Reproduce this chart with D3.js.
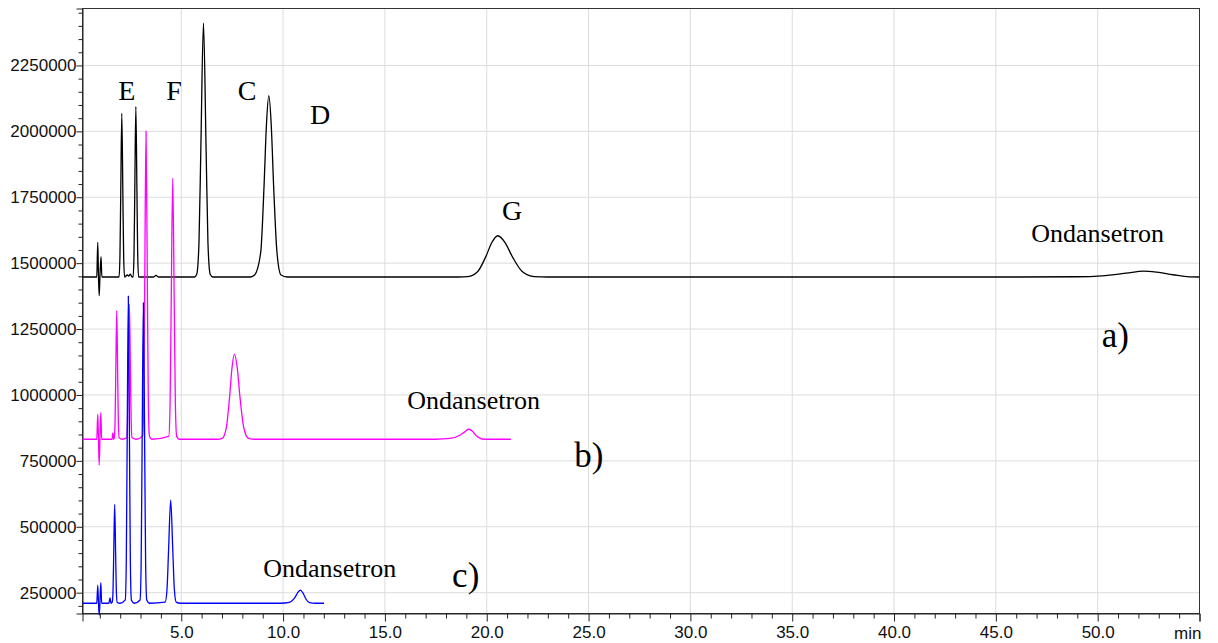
<!DOCTYPE html>
<html>
<head>
<meta charset="utf-8">
<script src="https://cdn.jsdelivr.net/npm/d3@7"></script>
<style>
  body { margin: 0; background: #fff; }
  svg { display: block; }
  .tick text { font-family: 'Liberation Sans', Arial, sans-serif; font-size: 17px; fill: #111; }
  .note { font-family: 'Liberation Serif', 'Times New Roman', serif; fill: #000; }
</style>
</head>
<body>
<div id="chart"></div>
<script>
const width = 1218
const height = 643
const margin = { top: 8.5, right: 18.5, bottom: 29.5, left: 82.5 }

// time range (min) and intensity range
const xDomain = [0.15, 55]
const yDomain = [171000, 2466000]
const xMajorTicks = [5, 10, 15, 20, 25, 30, 35, 40, 45, 50]
const yMajorTicks = [250000, 500000, 750000, 1000000, 1250000, 1500000, 1750000, 2000000, 2250000]

// chromatogram a) black
const traceA = [
  [0.15, 1447500], [0.85, 1447500], [0.90, 1579000], [0.935, 1447500], [0.97, 1377000], [1.005, 1447500], [1.06, 1525000], [1.10, 1447500],
  [1.945, 1447500], [1.99, 1531000], [2.027, 1758000], [2.08, 2068000], [2.133, 1758000], [2.17, 1531000], [2.215, 1447500],
  [2.35, 1455000], [2.42, 1451000], [2.5, 1458000], [2.58, 1447500],
  [2.635, 1447500], [2.68, 1535000], [2.717, 1771000], [2.77, 2094000], [2.823, 1771000], [2.86, 1535000], [2.905, 1447500],
  [3.65, 1447500], [3.76, 1454000], [3.87, 1447500],
  [5.65, 1447500], [5.76, 1458000], [5.87, 1577500], [5.96, 1928750], [6.09, 2410000], [6.22, 1928750], [6.31, 1577500], [6.42, 1458000], [6.55, 1447500],
  [8.4, 1447500], [8.6, 1455000], [8.9, 1540300], [9.064, 1791250], [9.18, 2021500], [9.30, 2135000], [9.42, 2021500], [9.536, 1791250], [9.70, 1540300], [9.90, 1455000], [10.2, 1447500],
  [18.6, 1447500], [19.07, 1449200], [19.56, 1468600], [19.96, 1525750], [20.25, 1578200], [20.54, 1604000], [20.90, 1578200], [21.25, 1525750], [21.74, 1468600], [22.34, 1449200], [23, 1447500],
  [46, 1447500], [49, 1448500], [50.2, 1452000], [51.4, 1462000], [52.25, 1470000], [52.9, 1466000], [53.7, 1456000], [54.5, 1448000], [55, 1447500]
]

// chromatogram b) magenta
const traceB = [
  [0.15, 832000], [0.85, 832000], [0.90, 927000], [0.935, 832000], [0.97, 734000], [1.005, 832000], [1.05, 933000], [1.09, 832000],
  [1.60, 832000], [1.64, 856000], [1.68, 832000],
  [1.71, 837400], [1.75, 897900], [1.783, 1076000], [1.83, 1320000], [1.877, 1076000], [1.91, 897900], [1.95, 837400], [2.1, 832000],
  [2.315, 837600], [2.36, 901300], [2.397, 1088500], [2.45, 1345000], [2.503, 1088500], [2.54, 901300], [2.585, 837600], [2.8, 832000],
  [3.105, 844900], [3.16, 989800], [3.205, 1416500], [3.27, 2001000], [3.335, 1416500], [3.38, 989800], [3.435, 844900], [3.55, 832000],
  [4.385, 842900], [4.45, 965650], [4.503, 1327000], [4.58, 1822000], [4.657, 1327000], [4.71, 965650], [4.775, 842900], [4.9, 832000],
  [6.8, 832000], [7.01, 835500], [7.21, 875600], [7.374, 993500], [7.49, 1101700], [7.61, 1155000], [7.75, 1101700], [7.88, 993500], [8.07, 875600], [8.30, 835500], [8.6, 832000],
  [17.5, 832000], [18.2, 835000], [18.7, 848000], [18.95, 862000], [19.12, 870000], [19.3, 862000], [19.48, 846000], [19.76, 833000], [20.1, 832000], [21.18, 832000]
]

// chromatogram c) blue
const traceC = [
  [0.15, 209800], [0.85, 209800], [0.90, 279000], [0.935, 209800], [0.97, 165000], [1.005, 209800], [1.05, 288000], [1.09, 209800],
  [1.45, 209800], [1.50, 230000], [1.55, 209800],
  [1.61, 213900], [1.65, 260450], [1.683, 397400], [1.73, 585000], [1.777, 397400], [1.81, 260450], [1.85, 213900], [2.0, 209800],
  [2.25, 222600], [2.30, 367100], [2.341, 792400], [2.40, 1375000], [2.459, 792400], [2.50, 367100], [2.55, 222600], [2.7, 209800],
  [2.975, 222300], [3.03, 363700], [3.075, 779900], [3.14, 1350000], [3.205, 779900], [3.25, 363700], [3.305, 222300], [3.45, 209800],
  [4.21, 214100], [4.30, 262700], [4.374, 405900], [4.48, 602000], [4.586, 405900], [4.66, 262700], [4.75, 214100], [4.95, 209800],
  [9.9, 209800], [10.3, 213000], [10.55, 228000], [10.72, 250000], [10.85, 260000], [10.98, 248000], [11.12, 226000], [11.3, 212000], [11.6, 209800], [12.01, 209800]
]

const traces = [
  { values: traceA, color: '#000000' },
  { values: traceB, color: '#ff00ff' },
  { values: traceC, color: '#0000ff' }
]

// annotations: text, time, intensity, size, anchor
const notes = [
  ['E', 2.32, 2119000, 28, 'middle'],
  ['F', 4.65, 2119000, 28, 'middle'],
  ['C', 8.23, 2119000, 28, 'middle'],
  ['D', 11.82, 2027000, 28, 'middle'],
  ['G', 21.25, 1664000, 28, 'middle'],
  ['Ondansetron', 50.0, 1581500, 26, 'middle'],
  ['a)', 50.2, 1181000, 35, 'start'],
  ['Ondansetron', 19.36, 945700, 26, 'middle'],
  ['b)', 24.3, 728000, 35, 'start'],
  ['Ondansetron', 12.29, 310700, 26, 'middle'],
  ['c)', 18.3, 272800, 35, 'start']
]

const innerW = width - margin.left - margin.right
const innerH = height - margin.top - margin.bottom

const svg = d3.select('#chart').append('svg')
  .attr('width', width)
  .attr('height', height)

const g = svg.append('g')
  .attr('transform', `translate(${margin.left},${margin.top})`)

const xScale = d3.scaleLinear().domain(xDomain).range([0, innerW])
const yScale = d3.scaleLinear().domain(yDomain).range([innerH, 0])

// grid
g.append('g')
  .selectAll('line')
  .data(xMajorTicks)
  .join('line')
  .attr('x1', d => xScale(d)).attr('x2', d => xScale(d))
  .attr('y1', 0).attr('y2', innerH)
  .attr('stroke', '#dcdcdc')
  .attr('stroke-width', 1)

g.append('g')
  .selectAll('line')
  .data(yMajorTicks)
  .join('line')
  .attr('x1', 0).attr('x2', innerW)
  .attr('y1', d => yScale(d)).attr('y2', d => yScale(d))
  .attr('stroke', '#dcdcdc')
  .attr('stroke-width', 1)

// frame
g.append('rect')
  .attr('x', 0).attr('y', 0)
  .attr('width', innerW).attr('height', innerH)
  .attr('fill', 'none')
  .attr('stroke', '#333')
  .attr('stroke-width', 1)

// minor ticks
const xMinor = d3.range(1, 56, 1).filter(d => d % 5 !== 0)
const yMinor = d3.range(200000, 2466000, 50000).filter(d => d % 250000 !== 0)

g.append('g')
  .attr('transform', `translate(0,${innerH})`)
  .call(d3.axisBottom(xScale).tickValues(xMinor).tickSize(5).tickFormat(''))
  .call(a => a.select('.domain').remove())

g.append('g')
  .call(d3.axisLeft(yScale).tickValues(yMinor).tickSize(4).tickFormat(''))
  .call(a => a.select('.domain').remove())

// major axes
g.append('g')
  .attr('transform', `translate(0,${innerH})`)
  .call(d3.axisBottom(xScale).tickValues(xMajorTicks.concat([55])).tickSize(8).tickPadding(4)
    .tickFormat(d => d === 55 ? '' : d3.format('.1f')(d)))
  .call(a => a.select('.domain').attr('stroke', '#222'))

g.append('g')
  .call(d3.axisLeft(yScale).tickValues(yMajorTicks).tickSize(6).tickPadding(0).tickFormat(d3.format('d')))
  .call(a => a.select('.domain').attr('stroke', '#222'))

g.selectAll('.tick line').attr('stroke', '#222')

g.append('text')
  .attr('class', 'tick')
  .attr('x', innerW + 2)
  .attr('y', innerH + 13)
  .attr('dy', '0.71em')
  .attr('text-anchor', 'end')
  .style('font-family', "'Liberation Sans', Arial, sans-serif")
  .style('font-size', '17px')
  .attr('fill', '#111')
  .text('min')

// traces
const line = d3.line()
  .x(d => xScale(d[0]))
  .y(d => yScale(d[1]))
  .curve(d3.curveMonotoneX)

g.append('g')
  .selectAll('path')
  .data(traces)
  .join('path')
  .attr('d', d => line(d.values))
  .attr('fill', 'none')
  .attr('stroke', d => d.color)
  .attr('stroke-width', 1.3)
  .attr('stroke-linejoin', 'round')

// labels
g.append('g')
  .selectAll('text')
  .data(notes)
  .join('text')
  .attr('class', 'note')
  .attr('x', d => xScale(d[1]))
  .attr('y', d => yScale(d[2]))
  .attr('text-anchor', d => d[4])
  .style('font-size', d => d[3] + 'px')
  .text(d => d[0])
</script>
</body>
</html>
